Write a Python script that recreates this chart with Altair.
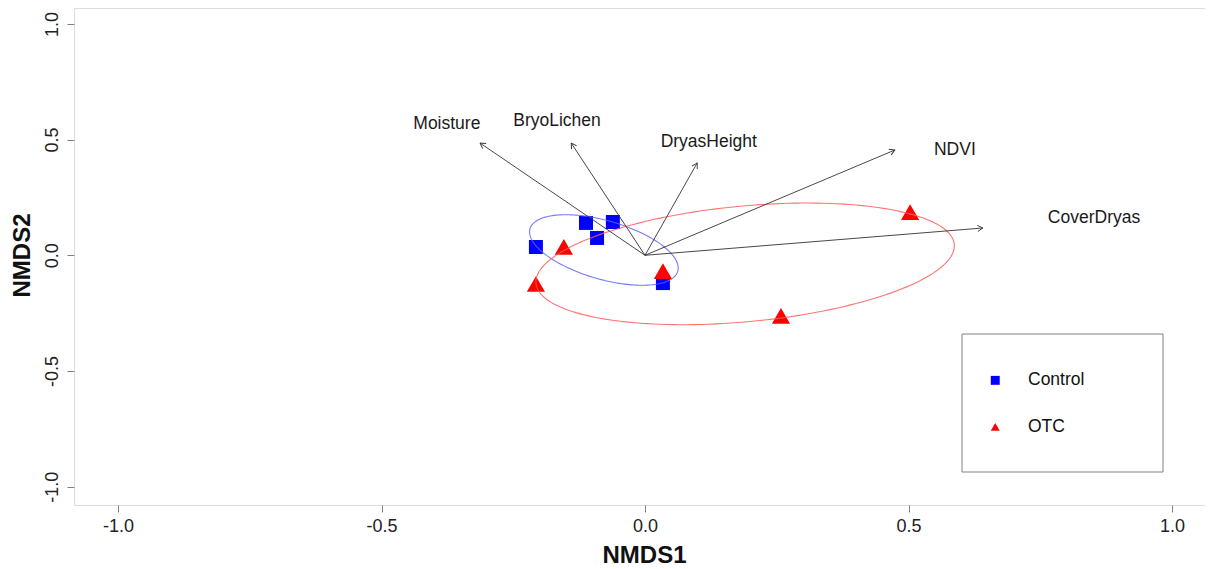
import altair as alt
import numpy as np
import pandas as pd

# ---- site scores ----
ctrl_x = [-0.207, -0.112, -0.091, -0.061, 0.034]
ctrl_y = [0.036, 0.140, 0.075, 0.144, -0.120]
otc_x = [-0.154, -0.207, 0.034, 0.258, 0.503]
otc_y = [0.036, -0.124, -0.068, -0.262, 0.187]

# ---- fitted environmental vectors ----
vec_names = ["Moisture", "BryoLichen", "DryasHeight", "NDVI", "CoverDryas"]
vec_x = [-0.313, -0.140, 0.099, 0.474, 0.641]
vec_y = [0.485, 0.485, 0.399, 0.455, 0.118]
lab_x = [-0.376, -0.167, 0.121, 0.588, 0.852]
lab_y = [0.569, 0.580, 0.490, 0.455, 0.161]

# ---- group ellipses: centre and two half-axis vectors ----
ell_groups = ["Control", "OTC"]
ell_colors = ["#6262ff", "#ff5a5a"]
ell_cx = [-0.078, 0.190]
ell_cy = [0.023, -0.037]
ell_ax = [0.141, 0.397]
ell_ay = [-0.078, 0.078]
ell_bx = [0.0, 0.0]
ell_by = [0.131, 0.251]

ticks = [-1.0, -0.5, 0.0, 0.5, 1.0]

# layout constants
W, H = 1131, 497
XD = [-1.0835, 1.0626]
YD = [-1.079, 1.0687]
kx = W / (XD[1] - XD[0])
ky = H / (YD[1] - YD[0])
FONT = "Liberation Sans"

pts = pd.DataFrame({
    "x": ctrl_x + otc_x,
    "y": ctrl_y + otc_y,
    "group": ["Control"] * len(ctrl_x) + ["OTC"] * len(otc_x),
})

rows = []
t = np.linspace(0, 2 * np.pi, 181)
for g, c, cx, cy, ax, ay, bx, by in zip(ell_groups, ell_colors, ell_cx, ell_cy,
                                         ell_ax, ell_ay, ell_bx, ell_by):
    for i, tt in enumerate(t):
        rows.append({"g": g, "col": c, "i": i,
                     "x": cx + ax * np.cos(tt) + bx * np.sin(tt),
                     "y": cy + ay * np.cos(tt) + by * np.sin(tt)})
ell = pd.DataFrame(rows)

vec = pd.DataFrame({"name": vec_names, "x": vec_x, "y": vec_y,
                    "lx": lab_x, "ly": lab_y})
vec["x0"] = 0.0
vec["y0"] = 0.0
vec["ang"] = [(np.degrees(np.arctan2(-vy * ky, vx * kx))) % 360
              for vx, vy in zip(vec_x, vec_y)]

xs = alt.Scale(domain=XD, nice=False, zero=False)
ys = alt.Scale(domain=YD, nice=False, zero=False)

lab_expr = "datum.value < 0 ? '-' + format(-datum.value, '.1f') : format(datum.value, '.1f')"

xaxis = alt.Axis(values=ticks, labelExpr=lab_expr, title="NMDS1", grid=False,
                 domain=False, tickSize=7, tickColor="#808080", labelFontSize=18,
                 labelFont=FONT, labelColor="#222222", labelPadding=5,
                 labelFlush=False, labelOverlap=False,
                 titleFontSize=24, titleFont=FONT, titleFontWeight="bold",
                 titleColor="#111111", titleX=570, titleY=57,
                 titleBaseline="alphabetic", titleAlign="center")
yaxis = alt.Axis(values=ticks, labelExpr=lab_expr, title="NMDS2", grid=False,
                 domain=False, tickSize=7, tickColor="#808080", labelFontSize=18,
                 labelFont=FONT, labelColor="#222222", labelPadding=10,
                 labelAngle=270, labelAlign="center", labelBaseline="alphabetic",
                 labelFlush=False, labelOverlap=False,
                 titleFontSize=24, titleFont=FONT, titleFontWeight="bold",
                 titleColor="#111111", titleAngle=270, titleX=-44.5, titleY=247,
                 titleBaseline="alphabetic", titleAlign="center")

leg = alt.Legend(title=None, orient="none", legendX=912.5, legendY=363.6,
                 symbolSize=80, labelFontSize=17.5, labelFont=FONT,
                 labelColor="#111111", labelOffset=24, rowPadding=27.6,
                 symbolStrokeWidth=0, padding=0)
color = alt.Color("group:N", scale=alt.Scale(domain=["Control", "OTC"], range=["blue", "red"]),
                  legend=leg)
shape = alt.Shape("group:N", scale=alt.Scale(domain=["Control", "OTC"],
                                             range=["square", "triangle-up"]),
                  legend=leg)

base_x = alt.X("x:Q", scale=xs, axis=xaxis)
base_y = alt.Y("y:Q", scale=ys, axis=yaxis)

squares = alt.Chart(pts).transform_filter("datum.group == 'Control'").mark_point(
    filled=True, opacity=1, size=196, strokeWidth=0
).encode(x=base_x, y=base_y, color=color, shape=shape)

triangles = alt.Chart(pts).transform_filter("datum.group == 'OTC'").mark_point(
    filled=True, opacity=1, size=330, strokeWidth=0
).encode(x=base_x, y=base_y, color=color, shape=shape)

ellipses = alt.Chart(ell).mark_line(strokeWidth=1.1, opacity=0.85).encode(
    x=alt.X("x:Q", scale=xs), y=alt.Y("y:Q", scale=ys),
    color=alt.Color("col:N", scale=None), detail="g:N", order="i:Q")

arrows = alt.Chart(vec).mark_rule(color="#333333", strokeWidth=0.9).encode(
    x=alt.X("x0:Q", scale=xs), y=alt.Y("y0:Q", scale=ys), x2="x:Q", y2="y:Q")

heads = alt.Chart(vec).mark_point(
    shape="M-1,-0.58L0,0L-1,0.58", filled=False, opacity=1, size=110,
    stroke="#333333", strokeWidth=0.9
).encode(x=alt.X("x:Q", scale=xs), y=alt.Y("y:Q", scale=ys),
         angle=alt.Angle("ang:Q", scale=None))

labels = alt.Chart(vec).mark_text(font=FONT, fontSize=17.5, color="#1a1a1a",
                                  align="center", baseline="middle").encode(
    x=alt.X("lx:Q", scale=xs), y=alt.Y("ly:Q", scale=ys), text="name:N")

frame = alt.Chart(pd.DataFrame({"a": [0]})).mark_rect(
    fillOpacity=0, stroke="#808080", strokeWidth=1
).encode(x=alt.value(888), x2=alt.value(1089), y=alt.value(326), y2=alt.value(464))

chart = alt.layer(squares, triangles, ellipses, arrows, heads, labels, frame).properties(
    width=W, height=H,
    padding={"left": 66, "top": 0, "right": 0, "bottom": 64},
    autosize=alt.AutoSizeParams(type="none"),
).configure_view(stroke="#808080", strokeWidth=1).configure(background="white")

chart.save("out.html", embed_options={"renderer": "svg", "actions": False})
